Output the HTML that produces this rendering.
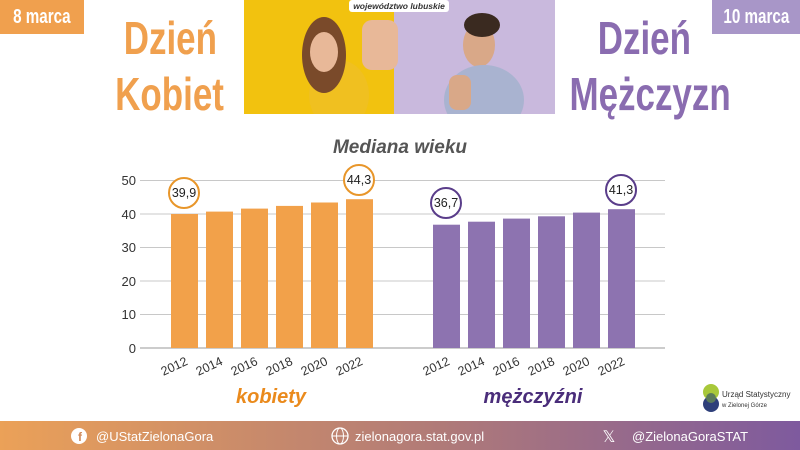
<!DOCTYPE html>
<html><head><meta charset="utf-8"><style>
body{margin:0;width:800px;height:450px;overflow:hidden;background:#fff;font-family:"Liberation Sans",sans-serif;position:relative}
.a{position:absolute}
.n{display:inline-block;transform:scaleX(0.76);transform-origin:center}
</style></head><body>
<div class="a" style="left:0;top:0;width:84px;height:34px;background:#f0a04e;color:#fff;font:bold 20px 'Liberation Sans',sans-serif;line-height:34px;text-align:center"><span class="n">8 marca</span></div>
<div class="a" style="left:712px;top:0;width:88px;height:34px;background:#a896c8;color:#fff;font:bold 20px 'Liberation Sans',sans-serif;line-height:34px;text-align:center"><span class="n">10 marca</span></div>
<div class="a" style="left:70px;top:10px;width:200px;text-align:center;color:#f0a04e;font:bold 46px/56px 'Liberation Sans',sans-serif"><span class="n">Dzień</span><br><span class="n">Kobiet</span></div>
<div class="a" style="left:544px;top:10px;width:200px;text-align:center;color:#8a6cb0;font:bold 46px/56px 'Liberation Sans',sans-serif"><span class="n">Dzień</span><br><span class="n">Mężczyzn</span></div>
<svg class="a" style="left:244px;top:0" width="311" height="114" viewBox="0 0 311 114">
<rect width="150" height="114" fill="#f2c20f"/><rect x="150" width="161" height="114" fill="#c9b9dd"/>
<ellipse cx="95" cy="95" rx="30" ry="35" fill="#f0c020"/>
<ellipse cx="80" cy="55" rx="22" ry="38" fill="#7a4a2a"/>
<ellipse cx="80" cy="52" rx="14" ry="20" fill="#e8b898"/>
<rect x="118" y="20" width="36" height="50" rx="10" fill="#e8b898"/>
<ellipse cx="235" cy="45" rx="16" ry="22" fill="#d9a888"/>
<ellipse cx="238" cy="25" rx="18" ry="12" fill="#3a2a20"/>
<ellipse cx="240" cy="100" rx="40" ry="35" fill="#a9b3d0"/>
<rect x="205" y="75" width="22" height="35" rx="8" fill="#d9a888"/>
<rect x="105" y="0" width="100" height="12" rx="3" fill="#fff"/>
<text x="155" y="9" font-size="8.5" font-style="italic" font-weight="bold" text-anchor="middle" fill="#333">województwo lubuskie</text>
</svg>
<svg class="a" style="left:0;top:0" width="800" height="420">
<text x="400" y="153" text-anchor="middle" font-size="19" font-style="italic" font-weight="bold" fill="#555">Mediana wieku</text>
<g stroke="#c8c8c8" stroke-width="1">
<line x1="140" x2="665" y1="180.5" y2="180.5"/><line x1="140" x2="665" y1="214" y2="214"/>
<line x1="140" x2="665" y1="247.5" y2="247.5"/><line x1="140" x2="665" y1="281" y2="281"/>
<line x1="140" x2="665" y1="314.5" y2="314.5"/></g>
<line x1="140" x2="665" y1="348" y2="348" stroke="#999"/>
<g font-size="13" fill="#333" text-anchor="end">
<text x="136" y="185">50</text><text x="136" y="219">40</text><text x="136" y="252">30</text>
<text x="136" y="286">20</text><text x="136" y="319">10</text><text x="136" y="353">0</text></g>
<g fill="#f2a14a">
<rect x="171" y="214" width="27" height="134"/><rect x="206" y="211.6" width="27" height="136.4"/>
<rect x="241" y="208.6" width="27" height="139.4"/><rect x="276" y="205.9" width="27" height="142.1"/>
<rect x="311" y="202.5" width="27" height="145.5"/><rect x="346" y="199.2" width="27" height="148.8"/></g>
<g fill="#8d73b0">
<rect x="433" y="224.7" width="27" height="123.3"/><rect x="468" y="221.7" width="27" height="126.3"/>
<rect x="503" y="218.6" width="27" height="129.4"/><rect x="538" y="216.3" width="27" height="131.7"/>
<rect x="573" y="212.6" width="27" height="135.4"/><rect x="608" y="209.2" width="27" height="138.8"/></g>
<g fill="#fff" stroke-width="2"><circle cx="184" cy="193" r="15" stroke="#e8962a"/><circle cx="359" cy="180" r="15" stroke="#e8962a"/>
<circle cx="446" cy="203" r="15" stroke="#5a3d8a"/><circle cx="621" cy="190" r="15" stroke="#5a3d8a"/></g>
<g font-size="12.5" fill="#222" text-anchor="middle"><text x="184" y="197">39,9</text><text x="359" y="184">44,3</text>
<text x="446" y="207">36,7</text><text x="621" y="194">41,3</text></g>
<g font-size="12.5" fill="#333" text-anchor="middle">
<text transform="translate(176,370) rotate(-25)">2012</text><text transform="translate(211,370) rotate(-25)">2014</text>
<text transform="translate(246,370) rotate(-25)">2016</text><text transform="translate(281,370) rotate(-25)">2018</text>
<text transform="translate(316,370) rotate(-25)">2020</text><text transform="translate(351,370) rotate(-25)">2022</text>
<text transform="translate(438,370) rotate(-25)">2012</text><text transform="translate(473,370) rotate(-25)">2014</text>
<text transform="translate(508,370) rotate(-25)">2016</text><text transform="translate(543,370) rotate(-25)">2018</text>
<text transform="translate(578,370) rotate(-25)">2020</text><text transform="translate(613,370) rotate(-25)">2022</text></g>
<text x="271" y="403" text-anchor="middle" font-size="20" font-weight="bold" font-style="italic" fill="#ea8a1c">kobiety</text>
<text x="533" y="403" text-anchor="middle" font-size="20" font-weight="bold" font-style="italic" fill="#4a2d7a">mężczyźni</text>
<circle cx="711" cy="392" r="8" fill="#a8c83a"/><circle cx="711" cy="404" r="8" fill="#2e3f7a"/><circle cx="711" cy="398" r="5" fill="#5a7a5a"/>
<text x="722" y="397" font-size="8" fill="#333">Urząd Statystyczny</text>
<text x="722" y="407" font-size="6" fill="#333">w Zielonej Górze</text>
</svg>
<div class="a" style="left:0;top:421px;width:800px;height:29px;background:linear-gradient(90deg,#eba158,#b07a78 55%,#7e5a9e)"></div>
<svg class="a" style="left:0;top:421px" width="800" height="29">
<circle cx="79" cy="15" r="8" fill="#fff"/><text x="80" y="20" font-size="12" font-weight="bold" fill="#d08a5a" text-anchor="middle">f</text>
<text x="96" y="20" font-size="13" fill="#fff">@UStatZielonaGora</text>
<circle cx="340" cy="15" r="8" fill="none" stroke="#fff" stroke-width="1.3"/><ellipse cx="340" cy="15" rx="3.5" ry="8" fill="none" stroke="#fff"/><line x1="332" x2="348" y1="15" y2="15" stroke="#fff"/>
<text x="355" y="20" font-size="13" fill="#fff">zielonagora.stat.gov.pl</text>
<text x="609" y="21" font-size="16" fill="#fff" text-anchor="middle">𝕏</text>
<text x="632" y="20" font-size="13" fill="#fff">@ZielonaGoraSTAT</text>
</svg>
</body></html>
